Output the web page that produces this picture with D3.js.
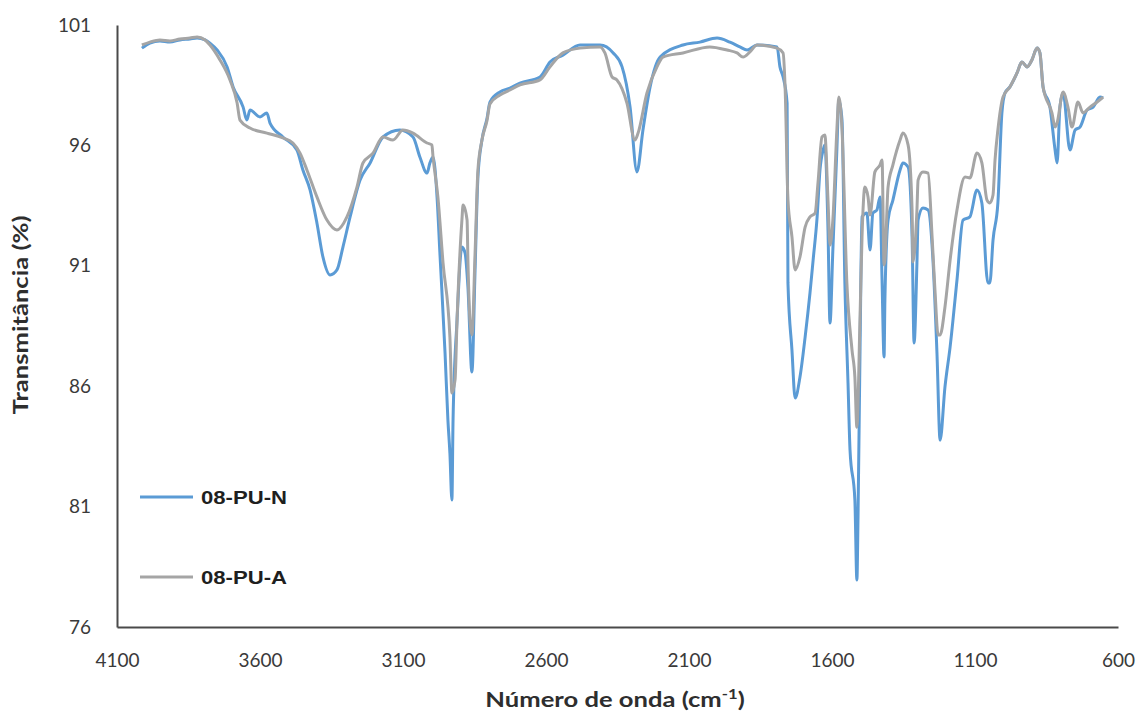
<!DOCTYPE html>
<html>
<head>
<meta charset="utf-8">
<script src="https://cdn.jsdelivr.net/npm/d3@7"></script>
<style>
  html, body { margin: 0; padding: 0; background: #ffffff; }
  svg { display: block; }
</style>
</head>
<body>
<svg id="chart" width="1142" height="715"></svg>
<script>
// FTIR spectra of the two polyurethane samples (wavenumber in cm-1, transmittance in %)
const seriesNames = ["08-PU-N", "08-PU-A"];
const seriesColors = ["#5B9BD5", "#A5A5A5"];

const wavenumberN = [4013,3985,3950,3915,3880,3845,3820,3792,3775,3750,3715,3694,3659,3646,3635,3600,3576,3565,3520,3471,3450,3425,3401,3380,3355,3331,3310,3285,3250,3215,3170,3111,3065,3041,3016,3006,2995,2981,2971,2953,2943,2936,2929,2925,2911,2894,2883,2873,2859,2848,2838,2824,2806,2796,2761,2726,2691,2621,2586,2541,2481,2411,2365,2334,2306,2282,2261,2236,2201,2121,2062,2002,1957,1922,1897,1862,1792,1782,1771,1757,1754,1740,1729,1712,1694,1677,1666,1652,1642,1631,1625,1614,1607,1597,1583,1576,1565,1555,1544,1537,1520,1513,1509,1502,1495,1478,1467,1457,1443,1432,1425,1418,1415,1404,1387,1362,1352,1334,1320,1313,1303,1299,1282,1264,1247,1233,1222,1205,1187,1163,1142,1118,1093,1076,1055,1048,1037,1020,1006,995,978,953,936,918,901,883,873,862,838,820,813,803,792,768,750,733,708,687,663,652];
const transmittanceN = [100.04,100.25,100.34,100.29,100.38,100.42,100.46,100.38,100.25,99.96,99.26,98.43,97.59,97.05,97.47,97.18,97.35,96.93,96.35,95.81,94.98,94.15,92.78,91.37,90.62,90.83,91.78,93.03,94.56,95.27,96.35,96.64,96.35,95.52,94.85,95.27,95.52,93.86,91.53,87.38,84.60,83.22,81.27,84.60,88.75,91.78,91.53,90.12,86.59,90.83,94.69,96.22,97.14,97.80,98.22,98.38,98.59,98.84,99.46,99.75,100.17,100.17,99.84,99.26,97.59,94.90,96.64,98.43,99.67,100.17,100.29,100.46,100.29,100.09,99.96,100.17,100.09,99.26,98.84,97.76,90.29,87.50,85.51,86.38,88.04,89.87,91.24,93.03,94.98,95.81,96.02,92.49,88.62,91.66,95.81,97.89,97.05,90.29,86.13,83.35,81.27,77.95,80.57,87.50,93.03,93.19,91.66,93.19,93.32,93.86,90.41,87.21,89.58,92.90,93.73,94.98,95.27,95.10,92.20,87.79,91.12,92.90,93.40,93.32,91.24,87.38,83.76,85.97,87.63,90.41,92.90,93.03,94.15,93.61,90.29,90.29,92.07,93.61,97.34,98.18,98.43,99.01,99.46,99.26,99.55,100.04,99.84,98.43,97.59,95.81,95.27,97.59,98.18,95.81,96.64,96.76,97.47,97.59,98.01,97.97];

const wavenumberA = [4013,3985,3950,3915,3880,3845,3820,3792,3775,3740,3705,3680,3670,3635,3576,3520,3485,3460,3436,3401,3366,3331,3296,3261,3240,3205,3170,3135,3100,3065,3016,2999,2995,2978,2960,2936,2929,2918,2911,2894,2890,2876,2873,2866,2859,2848,2838,2824,2806,2796,2761,2726,2691,2621,2586,2541,2481,2411,2394,2369,2352,2317,2289,2278,2247,2212,2191,2121,2027,1967,1932,1911,1887,1862,1792,1771,1764,1754,1740,1729,1712,1694,1677,1659,1649,1635,1625,1614,1607,1597,1583,1576,1565,1548,1530,1520,1513,1502,1495,1485,1474,1467,1450,1432,1425,1418,1415,1404,1387,1362,1352,1334,1320,1317,1303,1299,1282,1264,1250,1240,1229,1222,1205,1187,1163,1135,1118,1093,1076,1058,1048,1037,1030,1020,1002,978,953,936,918,901,883,873,862,831,820,813,792,775,761,740,722,698,673,652];
const transmittanceA = [100.17,100.29,100.38,100.34,100.42,100.46,100.50,100.38,100.17,99.55,98.72,97.76,97.05,96.72,96.51,96.31,96.10,95.68,94.98,93.86,92.90,92.49,93.03,94.27,95.27,95.68,96.35,96.22,96.64,96.51,96.10,96.02,95.52,93.86,91.12,88.04,85.72,86.26,88.75,92.90,93.52,92.90,91.24,88.75,88.13,91.53,94.98,96.22,97.05,97.72,98.09,98.30,98.51,98.72,99.26,99.84,100.04,100.09,99.84,98.84,98.72,97.76,96.22,96.51,98.18,99.26,99.67,99.84,100.09,99.96,99.84,99.67,99.88,100.17,100.04,99.84,98.43,93.73,92.20,90.83,91.37,92.61,93.03,93.19,94.44,96.35,96.43,93.73,91.86,92.90,96.64,98.01,96.64,90.29,87.50,86.38,84.30,88.87,92.20,94.27,93.86,93.11,94.90,95.19,95.39,91.03,91.24,94.27,95.19,96.22,96.51,96.02,93.32,91.16,93.32,94.56,94.90,94.85,92.20,89.99,88.13,88.13,89.29,91.24,93.32,94.69,94.65,95.68,95.27,93.73,93.61,93.94,95.39,96.64,98.01,98.43,99.01,99.46,99.26,99.55,100.04,99.84,98.43,97.35,96.76,96.93,98.22,97.59,96.76,97.80,97.35,97.59,97.80,98.01];

const xTickValues = [4100, 3600, 3100, 2600, 2100, 1600, 1100, 600];
const yTickValues = [76, 81, 86, 91, 96, 101];

const svg = d3.select("#chart");
const margin = { left: 117, right: 1118, top: 25, bottom: 627 };

const x = d3.scaleLinear().domain([4100, 600]).range([margin.left, margin.right]);
const y = d3.scaleLinear().domain([76, 101]).range([margin.bottom, margin.top]);

const tickFont = "Lato, 'Open Sans', sans-serif";

// x axis
const xAxis = svg.append("g")
  .attr("transform", `translate(0,${margin.bottom})`)
  .call(d3.axisBottom(x).tickValues(xTickValues).tickFormat(d3.format("d")).tickSize(0).tickPadding(27));
xAxis.select(".domain").attr("stroke", "#4a4a4a").attr("stroke-width", 2);
xAxis.selectAll("text").attr("font-family", tickFont).attr("font-size", 19).attr("fill", "#3a3a3a");

// y axis
const yAxis = svg.append("g")
  .attr("transform", `translate(${margin.left},0)`)
  .call(d3.axisLeft(y).tickValues(yTickValues).tickFormat(d3.format("d")).tickSize(0).tickPadding(26));
yAxis.select(".domain").attr("stroke", "#4a4a4a").attr("stroke-width", 2);
yAxis.selectAll("text").attr("font-family", tickFont).attr("font-size", 19).attr("fill", "#3a3a3a");

// axis titles (slightly widened lettering)
svg.append("text")
  .attr("transform", "translate(28,315) rotate(-90) scale(1.28,1)")
  .attr("text-anchor", "middle")
  .attr("font-family", tickFont)
  .attr("font-weight", "bold")
  .attr("font-size", 20)
  .attr("fill", "#2e2e2e")
  .text("Transmitância  (%)");

const xTitle = svg.append("text")
  .attr("transform", "translate(615,707) scale(1.28,1)")
  .attr("text-anchor", "middle")
  .attr("font-family", tickFont)
  .attr("font-weight", "bold")
  .attr("font-size", 20)
  .attr("fill", "#2e2e2e");
xTitle.append("tspan").text("Número de onda (cm");
xTitle.append("tspan").attr("dy", -8).attr("font-size", 13).text("-1");
xTitle.append("tspan").attr("dy", 8).text(")");

// spectra
const line = d3.line()
  .x(d => x(d[0]))
  .y(d => y(d[1]))
  .curve(d3.curveMonotoneX);

const series = [
  { name: seriesNames[0], color: seriesColors[0], points: d3.zip(wavenumberN, transmittanceN) },
  { name: seriesNames[1], color: seriesColors[1], points: d3.zip(wavenumberA, transmittanceA) }
];

svg.append("g")
  .selectAll("path")
  .data(series)
  .join("path")
  .attr("fill", "none")
  .attr("stroke", d => d.color)
  .attr("stroke-width", 3)
  .attr("stroke-linejoin", "round")
  .attr("d", d => line(d.points));

// legend
const legend = svg.append("g");
const legendRows = [497, 577];
series.forEach((s, i) => {
  legend.append("line")
    .attr("x1", 140).attr("x2", 193)
    .attr("y1", legendRows[i]).attr("y2", legendRows[i])
    .attr("stroke", s.color).attr("stroke-width", 3);
  legend.append("text")
    .attr("x", 201)
    .attr("y", legendRows[i] + 7)
    .attr("font-family", "'Liberation Sans', Arial, sans-serif")
    .attr("font-weight", "bold")
    .attr("font-size", 19)
    .attr("textLength", 86)
    .attr("lengthAdjust", "spacingAndGlyphs")
    .attr("fill", "#1f1f1f")
    .text(s.name);
});
</script>
</body>
</html>
